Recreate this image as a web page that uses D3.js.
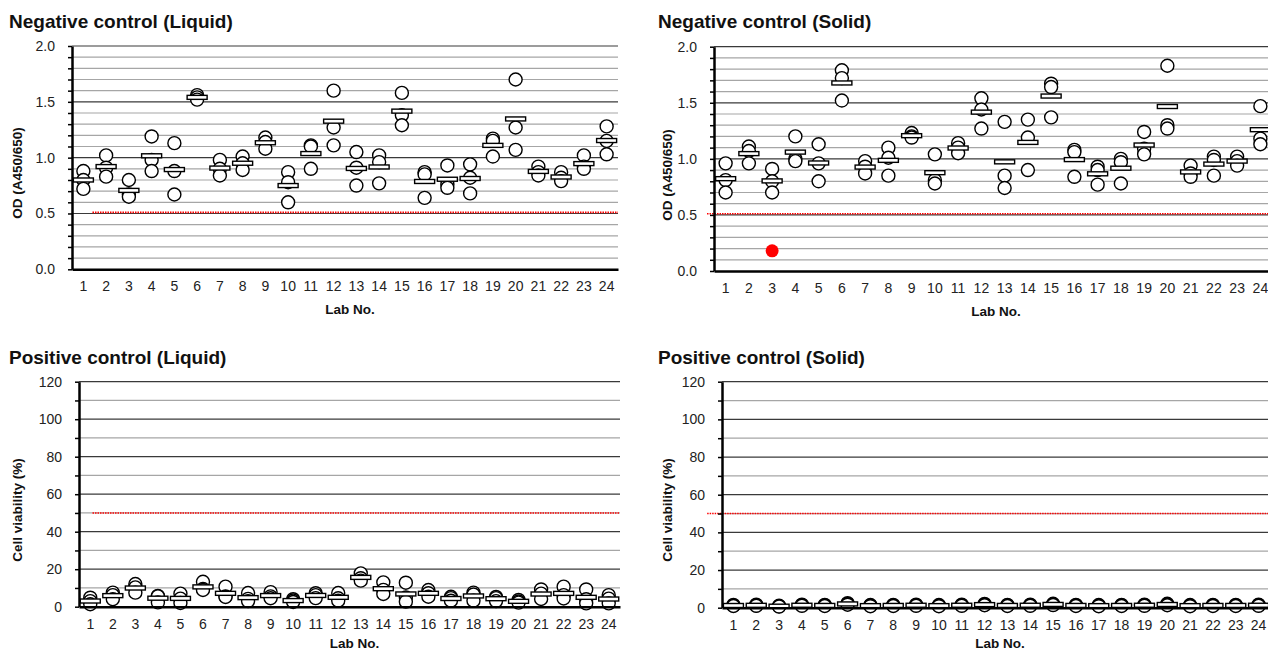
<!DOCTYPE html>
<html>
<head>
<meta charset="utf-8">
<script src="https://cdn.jsdelivr.net/npm/d3@7"></script>
<style>
  body { margin: 0; background: #fff; }
  svg { display: block; font-family: Arial, "Liberation Sans", sans-serif; }
</style>
</head>
<body>
<svg id="chart" width="1268" height="653"></svg>
<script>
// lab numbers on the x axis
var labs = [1,2,3,4,5,6,7,8,9,10,11,12,13,14,15,16,17,18,19,20,21,22,23,24];

// negative control, OD values (3 runs per lab)
var negLiquid = [
  [0.88,0.80,0.72],[1.02,0.91,0.83],[0.80,0.67,0.65],[1.19,0.98,0.88],
  [1.13,0.88,0.67],[1.56,1.54,1.52],[0.98,0.90,0.84],[1.01,0.95,0.89],
  [1.18,1.14,1.08],[0.87,0.78,0.60],[1.11,1.10,0.90],[1.60,1.27,1.11],
  [1.05,0.91,0.75],[1.02,0.96,0.77],[1.58,1.38,1.29],[0.87,0.85,0.64],
  [0.93,0.76,0.73],[0.94,0.82,0.68],[1.17,1.15,1.01],[1.70,1.27,1.07],
  [0.92,0.87,0.84],[0.87,0.82,0.79],[1.02,0.92,0.90],[1.28,1.15,1.03]
];
var negSolid = [
  [0.96,0.81,0.70],[1.11,1.07,0.96],[0.91,0.80,0.70],[1.20,1.00,0.98],
  [1.13,0.96,0.80],[1.79,1.72,1.52],[0.98,0.93,0.87],[1.10,1.01,0.85],
  [1.23,1.20,1.19],[1.04,0.81,0.78],[1.14,1.10,1.05],[1.54,1.44,1.27],
  [1.33,0.85,0.74],[1.35,1.19,0.90],[1.67,1.64,1.37],[1.08,1.06,0.84],
  [0.93,0.90,0.77],[1.00,0.97,0.78],[1.24,1.09,1.04],[1.83,1.30,1.27],
  [0.94,0.87,0.84],[1.02,0.99,0.85],[1.02,0.98,0.94],[1.47,1.18,1.13]
];
// excluded point (red)
var negSolidOutliers = [{lab: 3, value: 0.18}];

// positive control, cell viability (%)
var posLiquid = [
  [4.8,3.0,1.3],[7.5,6.2,4.0],[12.1,10.3,7.5],[5.8,5.5,2.3],
  [7.0,4.3,2.0],[13.3,9.5,8.9],[10.7,5.5,5.2],[7.3,4.2,3.0],
  [7.8,5.5,4.5],[4.0,3.3,2.5],[7.2,6.2,4.6],[7.3,4.5,3.2],
  [17.8,15.2,13.9],[13.0,9.0,6.8],[12.8,4.9,2.7],[8.9,7.2,5.3],
  [5.3,4.6,3.2],[7.5,6.5,3.2],[5.2,4.6,3.0],[3.6,2.8,2.2],
  [9.2,7.0,4.1],[10.7,6.2,4.4],[9.2,4.0,1.8],[6.2,4.3,1.8]
];
var posSolid = [
  [1.5,1.1,0.9],[1.6,1.2,1.0],[1.0,0.8,0.6],[1.6,1.3,1.0],
  [1.5,1.2,0.9],[2.4,2.0,1.6],[1.4,1.1,0.8],[1.5,1.2,0.9],
  [1.6,1.3,1.0],[1.4,1.1,0.8],[1.6,1.3,1.0],[2.0,1.6,1.3],
  [1.5,1.2,0.9],[1.6,1.3,1.0],[2.1,1.7,1.4],[1.5,1.2,0.9],
  [1.4,1.1,0.8],[1.5,1.2,0.9],[1.6,1.3,1.0],[2.1,1.7,1.3],
  [1.4,1.1,0.8],[1.5,1.2,0.9],[1.5,1.2,0.9],[1.6,1.3,1.0]
];

var odTicks = [0, 0.5, 1.0, 1.5, 2.0];
var viabilityTicks = [0, 20, 40, 60, 80, 100, 120];
var odCutoff = 0.51;
var viabilityCutoff = 50;

var svg = d3.select("#chart");

var panels = [
  { title: "Negative control (Liquid)", tx: 9, ty: 28, left: 72, right: 618, top: 46, bottom: 269.3,
    data: negLiquid, outliers: [], ticks: odTicks, minor: 0.1, fmt: d3.format(".1f"),
    cutoff: odCutoff, cutFrom: 1.4, yLabel: "OD (A450/650)", ylx: 17, yly: 173, xly: 40 },
  { title: "Negative control (Solid)", tx: 658, ty: 28, left: 714, right: 1272, top: 46.7, bottom: 271,
    data: negSolid, outliers: negSolidOutliers, ticks: odTicks, minor: 0.1, fmt: d3.format(".1f"),
    cutoff: odCutoff, cutFrom: 0.2, yLabel: "OD (A450/650)", ylx: 667, yly: 175, xly: 40 },
  { title: "Positive control (Liquid)", tx: 9, ty: 364, left: 79, right: 620, top: 381.7, bottom: 606.7,
    data: posLiquid, outliers: [], ticks: viabilityTicks, minor: 10, fmt: d3.format("d"),
    cutoff: viabilityCutoff, cutFrom: 1.1, yLabel: "Cell viability (%)", ylx: 17, yly: 510, xly: 37 },
  { title: "Positive control (Solid)", tx: 658, ty: 364, left: 722, right: 1270, top: 381.7, bottom: 607.7,
    data: posSolid, outliers: [], ticks: viabilityTicks, minor: 10, fmt: d3.format("d"),
    cutoff: viabilityCutoff, cutFrom: -0.15, yLabel: "Cell viability (%)", ylx: 667, yly: 510, xly: 36 }
];

panels.forEach(drawPanel);

function drawPanel(p) {
  var g = svg.append("g");
  var lo = p.ticks[0], hi = p.ticks[p.ticks.length - 1];
  var majorStep = p.ticks[1] - p.ticks[0];

  var x = d3.scaleBand().domain(labs).range([p.left, p.right]);
  // lab number -> pixel, for the cutoff line
  var xl = d3.scaleLinear().domain([0.5, labs.length + 0.5]).range([p.left, p.right]);
  var y = d3.scaleLinear().domain([lo, hi]).range([p.bottom, p.top]);

  var minorVals = d3.range(0, Math.round((hi - lo) / p.minor) + 1).map(function(i) { return lo + i * p.minor; });
  function isMajor(v) { var r = v / majorStep; return Math.abs(r - Math.round(r)) < 1e-6; }

  // gridlines
  g.selectAll(".grid")
    .data(minorVals.filter(function(v) { return v > lo; }))
    .enter().append("line")
    .attr("x1", p.left).attr("x2", p.right)
    .attr("y1", function(d) { return y(d); }).attr("y2", function(d) { return y(d); })
    .attr("stroke", function(d) { return isMajor(d) ? "#3a3a3a" : "#a6a6a6"; })
    .attr("stroke-width", 1.2);

  // cutoff line
  g.append("line")
    .attr("x1", xl(p.cutFrom)).attr("x2", p.right)
    .attr("y1", y(p.cutoff)).attr("y2", y(p.cutoff))
    .attr("stroke", "#ff0000").attr("stroke-width", 1.6)
    .attr("stroke-dasharray", "1.5,1");

  // points
  var pts = [];
  p.data.forEach(function(vals, i) {
    vals.forEach(function(v) { pts.push({lab: labs[i], value: v}); });
  });
  var cx = function(d) { return x(d.lab) + x.bandwidth() / 2; };
  g.selectAll(".pt").data(pts).enter().append("circle")
    .attr("cx", cx).attr("cy", function(d) { return y(d.value); })
    .attr("r", 6.5).attr("fill", "#fff").attr("stroke", "#000").attr("stroke-width", 1.4);

  g.selectAll(".out").data(p.outliers).enter().append("circle")
    .attr("cx", cx).attr("cy", function(d) { return y(d.value); })
    .attr("r", 6.5).attr("fill", "#ff0000").attr("stroke", "none");

  // mean bars
  var means = p.data.map(function(vals, i) { return {lab: labs[i], value: d3.mean(vals)}; });
  g.selectAll(".mean").data(means).enter().append("rect")
    .attr("x", function(d) { return cx(d) - 10; })
    .attr("y", function(d) { return y(d.value) - 2; })
    .attr("width", 20).attr("height", 4)
    .attr("fill", "#fff").attr("stroke", "#000").attr("stroke-width", 1.4);

  // y axis
  var ya = g.append("g")
    .attr("transform", "translate(" + p.left + ",0)")
    .call(d3.axisLeft(y).tickValues(minorVals).tickSize(4).tickSizeOuter(0).tickPadding(13)
      .tickFormat(function(d) { return isMajor(d) ? p.fmt(d) : ""; }));
  ya.select(".domain").attr("stroke", "#000").attr("stroke-width", 2.5);
  ya.selectAll(".tick line").attr("stroke", "#000").attr("stroke-width", 1.5);
  ya.selectAll(".tick text").attr("font-size", 14).attr("fill", "#222").attr("font-family", "Arial, 'Liberation Sans', sans-serif");

  // x axis
  var xa = g.append("g")
    .attr("transform", "translate(0," + p.bottom + ")")
    .call(d3.axisBottom(x).tickSize(0).tickSizeOuter(0).tickPadding(12));
  xa.select(".domain").attr("stroke", "#000").attr("stroke-width", 2.5);
  xa.selectAll(".tick text").attr("font-size", 14).attr("fill", "#222").attr("font-family", "Arial, 'Liberation Sans', sans-serif");

  // titles
  g.append("text").attr("x", p.tx).attr("y", p.ty)
    .attr("font-size", 19).attr("font-weight", "bold").attr("fill", "#111")
    .text(p.title);

  g.append("text")
    .attr("transform", "translate(" + p.ylx + "," + p.yly + ") rotate(-90)")
    .attr("text-anchor", "middle").attr("dy", "0.35em")
    .attr("font-size", 13.5).attr("font-weight", "bold").attr("fill", "#111")
    .text(p.yLabel);

  g.append("text")
    .attr("x", (p.left + Math.min(p.right, 1268)) / 2 + 5).attr("y", p.bottom + p.xly)
    .attr("text-anchor", "middle").attr("dy", "0.35em")
    .attr("font-size", 13.5).attr("font-weight", "bold").attr("fill", "#111")
    .text("Lab No.");
}
</script>
</body>
</html>
